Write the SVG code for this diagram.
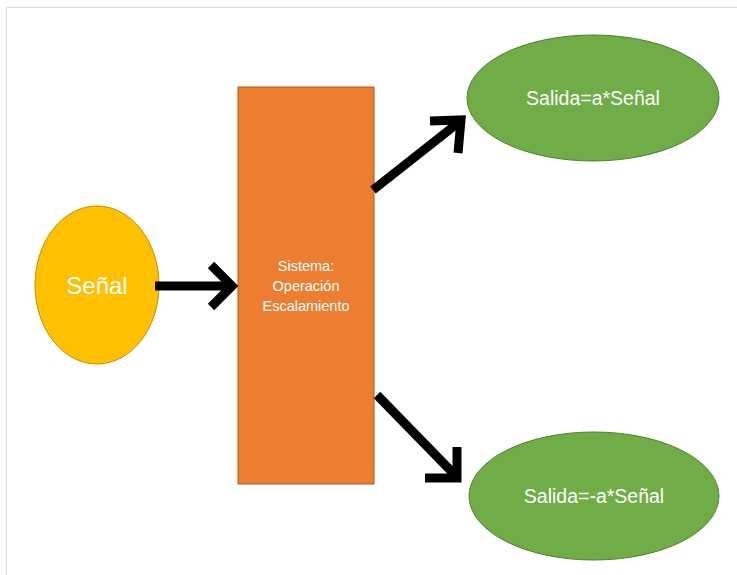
<svg xmlns="http://www.w3.org/2000/svg" width="737" height="575" viewBox="0 0 737 575">
<style>
.lbl{font-family:"Liberation Sans","Open Sans",sans-serif;fill:#fff;text-anchor:middle;dominant-baseline:central}
.arr{fill:none;stroke:#000;stroke-width:9;stroke-linejoin:miter;stroke-linecap:butt}
</style>
<rect x="0" y="0" width="737" height="575" fill="#fff"/>
<path d="M6.5 575 V7.5 H737" fill="none" stroke="#d9d9d9" stroke-width="1"/>
<g id="senal">
<ellipse cx="97" cy="285" rx="62" ry="79" fill="#FFC000" stroke="#BF9000" stroke-width="1"/>
<text class="lbl" x="97" y="285" font-size="24">Señal</text>
</g>
<g id="sistema">
<rect x="238" y="87" width="136" height="397" fill="#ED7D31" stroke="#AE5A21" stroke-width="1"/>
<text class="lbl" font-size="14.5"><tspan x="306" y="266">Sistema:</tspan><tspan x="306" y="286">Operación</tspan><tspan x="306" y="306">Escalamiento</tspan></text>
</g>
<g id="salida1">
<ellipse cx="593" cy="98" rx="126" ry="63" fill="#70AD47" stroke="#507E32" stroke-width="1"/>
<text class="lbl" x="593" y="98" font-size="19.5">Salida=a*Señal</text>
</g>
<g id="salida2">
<ellipse cx="594" cy="496" rx="125" ry="64" fill="#70AD47" stroke="#507E32" stroke-width="1"/>
<text class="lbl" x="594" y="496" font-size="19.5">Salida=-a*Señal</text>
</g>
<g id="connectors">
<path class="arr" d="M155 286 H232"/>
<path class="arr" d="M211 265 L232 286 L211 307"/>
<path class="arr" d="M373 190 L458 123"/>
<path class="arr" d="M430 121 L461 120 L458 153"/>
<path class="arr" d="M377 395 L456 476"/>
<path class="arr" d="M425 478 L457 478 L457 447"/>
</g>
</svg>
